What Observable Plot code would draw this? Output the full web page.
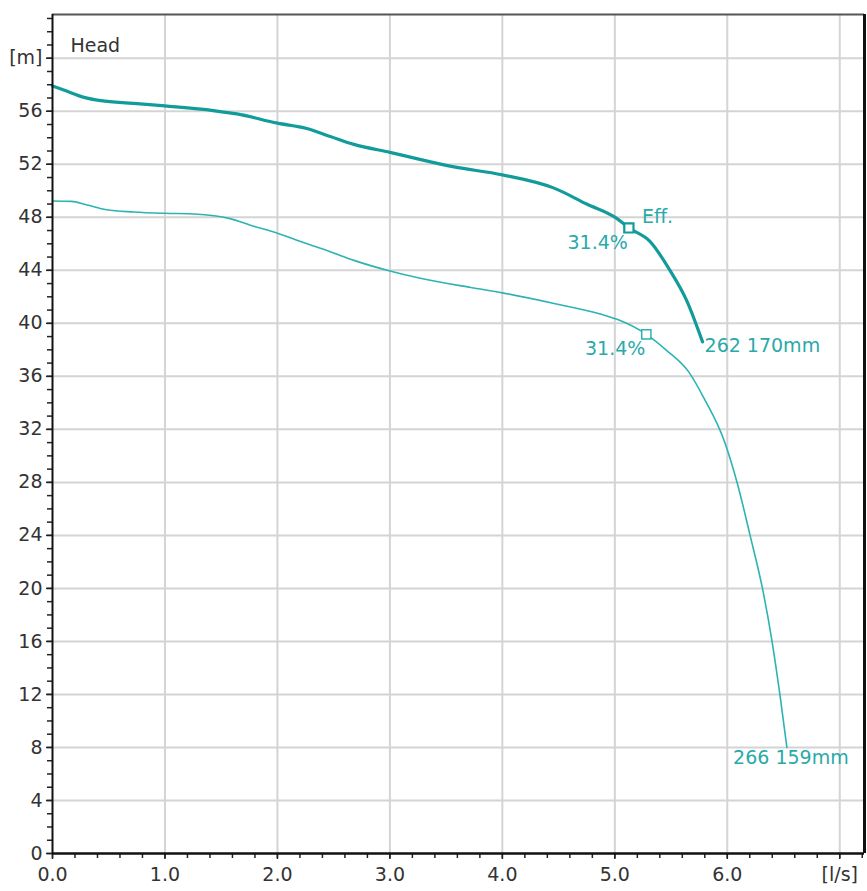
<!DOCTYPE html>
<html>
<head>
<meta charset="utf-8">
<script src="https://cdn.jsdelivr.net/npm/d3@7"></script>
<script src="https://cdn.jsdelivr.net/npm/@observablehq/plot@0.6"></script>
<style>
  html, body { margin: 0; padding: 0; background: white; }
</style>
</head>
<body>
<div id="chart"></div>
<script>
// Curve 262 170mm (thick)
const q170 = [0.00, 0.10, 0.28, 0.43, 0.72, 1.00, 1.43, 1.64, 2.00, 2.26, 2.47, 2.68, 3.00, 3.57, 4.00, 4.46, 4.75, 5.02, 5.125, 5.31, 5.49, 5.64, 5.78];
const h170 = [57.9, 57.6, 57.05, 56.8, 56.6, 56.4, 56.05, 55.8, 55.1, 54.7, 54.1, 53.5, 52.9, 51.8, 51.2, 50.2, 49.0, 47.9, 47.2, 46.2, 44.0, 41.7, 38.6];
// Curve 266 159mm (thin)
const q159 = [0.00, 0.17, 0.30, 0.48, 0.72, 1.00, 1.26, 1.58, 1.76, 2.00, 2.23, 2.47, 2.68, 3.00, 3.27, 3.72, 4.00, 4.46, 4.87, 5.02, 5.28, 5.46, 5.66, 5.79, 5.97, 6.09, 6.20, 6.32, 6.40, 6.47, 6.53];
const h159 = [49.23, 49.2, 48.95, 48.57, 48.4, 48.3, 48.25, 47.9, 47.4, 46.8, 46.1, 45.4, 44.75, 43.95, 43.4, 42.7, 42.3, 41.5, 40.7, 40.3, 39.17, 37.96, 36.3, 34.4, 31.2, 27.9, 24.1, 19.7, 15.9, 11.85, 8.0];
const curveNames = ["262 170mm", "266 159mm"];
// Efficiency points
const effQ = [5.125, 5.28];
const effH = [47.2, 39.17];
const effLabels = ["31.4%", "31.4%"];
// Axis ticks
const xTicks = [0, 1, 2, 3, 4, 5, 6, 7];
const xTickLabels = ["0.0", "1.0", "2.0", "3.0", "4.0", "5.0", "6.0", "[l/s]"];
const yTicks = [0, 4, 8, 12, 16, 20, 24, 28, 32, 36, 40, 44, 48, 52, 56, 60];
const yTickLabels = ["0", "4", "8", "12", "16", "20", "24", "28", "32", "36", "40", "44", "48", "52", "56", "[m]"];
const xMinor = d3.range(0, 7.21, 0.2);
const yMinor = d3.range(0, 64, 1);
const xMax = 7.22, yMax = 63.3;

const d170 = q170.map((q, i) => ({q, h: h170[i]}));
const d159 = q159.map((q, i) => ({q, h: h159[i]}));
const eff = effQ.map((q, i) => ({q, h: effH[i], label: effLabels[i]}));

const thick = "#129b9b";
const thin = "#2db3b3";
const lab = "#2aa9a9";

const chart = Plot.plot({
  width: 867,
  height: 891,
  marginLeft: 52,
  marginRight: 3,
  marginTop: 14,
  marginBottom: 38,
  style: {fontFamily: "DejaVu Sans", fontSize: "19px", color: "#333", background: "white"},
  x: {domain: [0, xMax], label: null},
  y: {domain: [0, yMax], label: null},
  marks: [
    Plot.gridX(xTicks.slice(1), {stroke: "#d4d4d4", strokeOpacity: 1, strokeWidth: 2}),
    Plot.gridY(yTicks.slice(1), {stroke: "#d4d4d4", strokeOpacity: 1, strokeWidth: 2}),
    Plot.line(d159, {x: "q", y: "h", stroke: thin, strokeWidth: 1.6, curve: "monotone-x"}),
    Plot.line(d170, {x: "q", y: "h", stroke: thick, strokeWidth: 3.2, curve: "monotone-x"}),
    Plot.dot(eff.slice(0, 1), {x: "q", y: "h", symbol: "square", r: 5.2, fill: "white", stroke: thick, strokeWidth: 2.2}),
    Plot.dot(eff.slice(1), {x: "q", y: "h", symbol: "square", r: 5.2, fill: "white", stroke: thin, strokeWidth: 1.5}),
    Plot.text(eff, {x: "q", y: "h", text: "label", textAnchor: "end", dx: -1, dy: 15, fill: lab}),
    Plot.text(eff.slice(0, 1), {x: "q", y: "h", text: () => "Eff.", textAnchor: "start", dx: 13, dy: -11, fill: lab}),
    Plot.text([d170[d170.length - 1]], {x: "q", y: "h", text: () => curveNames[0], textAnchor: "start", dx: 2, dy: 4, fill: lab}),
    Plot.text([d159[d159.length - 1]], {x: "q", y: "h", text: () => curveNames[1], textAnchor: "middle", dx: 4, dy: 10, fill: lab}),
    Plot.text(["Head"], {frameAnchor: "top-left", text: d => d, lineAnchor: "top", textAnchor: "start", dx: 18, dy: 24, fill: "#333"}),
    Plot.axisX(xMinor, {tickSize: 5, tickFormat: () => "", stroke: "#222", strokeWidth: 1.5, label: null}),
    Plot.axisX(xTicks, {tickSize: 6, tickPadding: 8, tickFormat: (d) => xTickLabels[xTicks.indexOf(d)], stroke: "#222", strokeWidth: 1.5, fill: "#333", label: null}),
    Plot.axisY(yMinor, {tickSize: 5, tickFormat: () => "", stroke: "#222", strokeWidth: 1.5, label: null}),
    Plot.axisY(yTicks, {tickSize: 6, tickPadding: 4, tickFormat: (d) => yTickLabels[yTicks.indexOf(d)], stroke: "#222", strokeWidth: 1.5, fill: "#333", label: null}),
    Plot.ruleY([yMax], {stroke: "#555", strokeWidth: 2}),
    Plot.ruleX([xMax], {stroke: "#111", strokeWidth: 3}),
    Plot.ruleX([0], {stroke: "#111", strokeWidth: 2}),
    Plot.ruleY([0], {stroke: "#111", strokeWidth: 2.5})
  ]
});
document.getElementById("chart").appendChild(chart);
</script>
</body>
</html>
